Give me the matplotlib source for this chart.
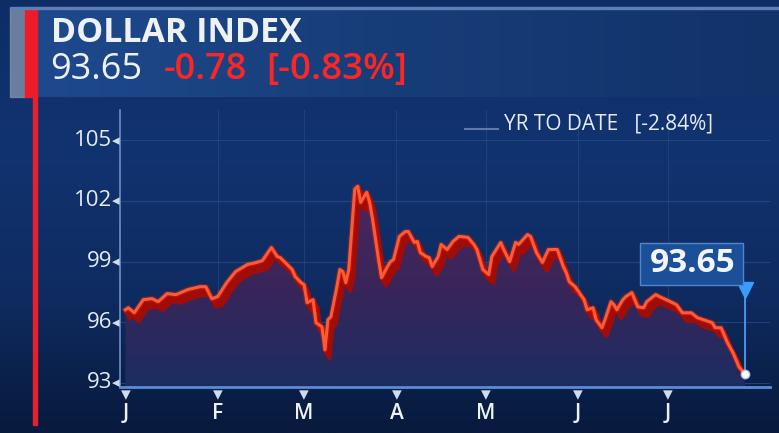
import numpy as np
import matplotlib
matplotlib.use("Agg")
import matplotlib.pyplot as plt
from matplotlib.patches import Rectangle, Polygon
from matplotlib.transforms import offset_copy

plt.rcParams['font.family'] = ['Open Sans', 'DejaVu Sans']

# day of year 2020 (0 = Jan 1) and dollar index close
days = [0, 1, 3, 6, 9, 11, 14, 17, 21, 25, 27, 29, 31, 34, 37, 41, 44, 46, 49, 51,
        52, 56, 57, 59, 60, 61, 63, 64, 66, 67, 68, 69, 71, 72, 73, 74, 75, 77, 78, 79,
        81, 82, 83, 85, 86, 88, 89, 90, 92, 94, 95, 97, 98, 99, 101, 102, 103, 105, 106, 108,
        110, 112, 115, 117, 118, 120, 122, 123, 126, 127, 129, 131, 132, 135, 136, 138, 140, 142, 145, 147,
        148, 149, 151, 154, 155, 157, 158, 160, 161, 163, 164, 165, 167, 168, 170, 172, 174, 175, 178, 180,
        183, 185, 187, 190, 192, 194, 197, 198, 200, 202, 204, 206, 208]
values = [96.62, 96.72, 96.47, 97.12, 97.17, 97.02, 97.42, 97.37, 97.62, 97.76, 97.76, 97.17, 97.27, 97.96, 98.51, 98.86, 98.96, 99.05, 99.70, 99.25,
          99.20, 98.61, 98.26, 97.96, 97.86, 96.97, 97.12, 95.98, 95.78, 94.64, 96.13, 96.28, 97.76, 98.61, 98.51, 97.96, 98.61, 102.58, 102.73, 101.93,
          102.43, 101.93, 101.09, 99.10, 98.21, 98.76, 99.00, 99.10, 100.25, 100.49, 100.49, 99.95, 100.00, 99.45, 99.25, 99.20, 98.76, 99.25, 99.85, 99.60,
          100.00, 100.25, 100.20, 99.85, 99.60, 98.61, 98.36, 99.25, 99.95, 99.60, 99.00, 99.95, 99.85, 100.34, 100.25, 99.45, 98.96, 99.60, 99.60, 98.76,
          98.46, 98.01, 97.76, 97.12, 96.62, 96.72, 96.13, 95.73, 96.13, 97.02, 96.87, 96.62, 97.12, 97.27, 97.47, 96.77, 96.72, 97.02, 97.37, 97.22,
          97.02, 96.87, 96.47, 96.47, 96.23, 96.13, 95.98, 95.73, 95.73, 95.03, 94.49, 93.79, 93.45]

month_days = [0, 31, 60, 91, 121, 152, 182]
month_labels = ["J", "F", "M", "A", "M", "J", "J"]
y_ticks = [93, 96, 99, 102, 105]

title = "DOLLAR INDEX"
last_txt = "93.65"
chg_txt = "-0.78"
pct_txt = "[-0.83%]"
ytd_txt = "YR TO DATE   [-2.84%]"

W, H = 779, 433
fig = plt.figure(figsize=(W / 100, H / 100), dpi=100)
fig.patch.set_facecolor("#0b2150")

# background gradient
bg = fig.add_axes([0, 0, 1, 1], zorder=-5)
grad = np.linspace(0, 1, 256).reshape(-1, 1)
bg_cmap = matplotlib.colors.LinearSegmentedColormap.from_list("bg", ["#0e2d66", "#113370", "#0f2c62", "#081a3d"])
bg.imshow(grad, cmap=bg_cmap, aspect="auto", extent=[0, 1, 0, 1], origin="upper")
bg.set_axis_off()


def px(x, y):
    return x / W, 1 - y / H


# header box
hdr_cmap = matplotlib.colors.LinearSegmentedColormap.from_list("hdr", ["#1e4a8e", "#173d78", "#12326a"])
hdr = fig.add_axes([10 / W, 1 - 97 / H, 1 - 10 / W, 89 / H], zorder=1)
hdr.imshow(np.linspace(0, 1, 256).reshape(1, -1), cmap=hdr_cmap, aspect="auto", extent=[0, 1, 0, 1])
hdr.set_axis_off()
fig.patches.append(Rectangle(px(10, 97), 15 / W, 89 / H, transform=fig.transFigure,
                             color="#8a95a6", alpha=0.7, zorder=2))
fig.patches.append(Rectangle(px(25, 97), 12 / W, 89 / H, transform=fig.transFigure,
                             color="#ee1c2a", zorder=2))
fig.patches.append(Rectangle(px(33, 425), 4 / W, 328 / H, transform=fig.transFigure,
                             color="#e8202c", zorder=2))
fig.patches.append(Rectangle(px(10, 9), 769 / W, 1.5 / H, transform=fig.transFigure,
                             color="#5d7fb5", zorder=2))

fig.text(*px(51, 33), title, color="#eef2f7", fontsize=24.5, fontweight="bold", va="center", zorder=3)
fig.text(*px(50, 70), last_txt, color="#eef2f7", fontsize=26, va="center", zorder=3)
fig.text(*px(164, 70), chg_txt, color="#ff2525", fontsize=26, fontweight="semibold", va="center", zorder=3)
fig.text(*px(266, 70), pct_txt, color="#ff2525", fontsize=26.5, fontweight="semibold", va="center", zorder=3)

# main chart
ax = fig.add_axes([120 / W, 1 - 387 / H, 650 / W, 277 / H], zorder=2)
ax.set_facecolor("none")
x0, x1 = -1.8, 216.4
y0, y1 = 92.8, 106.5
ax.set_xlim(x0, x1)
ax.set_ylim(y0, y1)

for v in y_ticks:
    ax.axhline(v, color="#2f5590", lw=0.8, alpha=0.6, zorder=0)
for d in month_days[1:]:
    ax.axvline(d, color="#2f5590", lw=0.8, alpha=0.45, zorder=0)

# gradient fill under the curve
fill_cmap = matplotlib.colors.LinearSegmentedColormap.from_list("fill", ["#4a2760", "#3a2559", "#1c2d62"])
im = ax.imshow(np.linspace(0, 1, 256).reshape(-1, 1), cmap=fill_cmap, aspect="auto",
               extent=[x0, x1, y0, 103], origin="upper", zorder=1)
poly = Polygon(list(zip(days, values)) + [(days[-1], y0), (days[0], y0)], closed=True,
               transform=ax.transData, facecolor="none", edgecolor="none")
ax.add_patch(poly)
im.set_clip_path(poly)

# 3D red extrusion, clipped at the last point
clip_box = Rectangle((x0, y0), days[-1] - x0, y1 - y0, transform=ax.transData)
for k in range(1, 10):
    tr = offset_copy(ax.transData, fig=fig, x=0.5 * k, y=-0.9 * k, units="dots")
    ln, = ax.plot(days, values, color="#a00c08", lw=3, transform=tr, zorder=2, solid_joinstyle="round")
    ln.set_clip_path(clip_box)
ax.plot(days, values, color="#ff3010", lw=4, alpha=0.25, zorder=3)
ax.plot(days, values, color="#ff5a36", lw=2.2, zorder=4, solid_joinstyle="round")

# end marker and label
ax.plot([days[-1], days[-1]], [values[-1], 97.75], color="#4aa8ff", lw=1.2, zorder=4)
ax.plot(days[-1], 97.6, marker="v", color="#3b9cff", ms=11, zorder=5)
ax.plot(days[-1], values[-1], "o", color="white", ms=6, zorder=6, markeredgecolor="#b0c4e0")

ax.set_xticks([])
ax.set_yticks([])
for s in ["top", "right"]:
    ax.spines[s].set_visible(False)
ax.spines["left"].set_color("#6d8fc4")
ax.spines["left"].set_linewidth(1.2)
ax.spines["bottom"].set_color("#5b8ad6")
ax.spines["bottom"].set_linewidth(2)

for v in y_ticks:
    ax.text(-0.012, v, str(v), transform=ax.get_yaxis_transform(), ha="right", va="center",
            color="#e6ecf5", fontsize=16, clip_on=False)
    ax.text(-0.006, v, "\u25c2", transform=ax.get_yaxis_transform(), ha="center", va="center",
            color="#cfdcef", fontsize=11, clip_on=False, family="DejaVu Sans")
for d, lab in zip(month_days, month_labels):
    ax.text(d, -0.028, "\u25be", transform=ax.get_xaxis_transform(), ha="center", va="center",
            color="#cfdcef", fontsize=14, clip_on=False, family="DejaVu Sans")
    ax.text(d, -0.095, lab, transform=ax.get_xaxis_transform(), ha="center", va="center",
            color="#eef2f7", fontsize=15, fontweight="semibold", clip_on=False)

# year-to-date legend
fig.lines.append(plt.Line2D([465 / W, 498 / W], [1 - 129 / H, 1 - 129 / H], transform=fig.transFigure,
                            color="#5f7aa6", lw=1.5))
fig.text(*px(504, 124), ytd_txt, color="#e6ecf5", fontsize=15, va="center", zorder=3)

# price box
fig.patches.append(Rectangle(px(640, 285), 103 / W, 42 / H, transform=fig.transFigure,
                             facecolor="#1b4f98", edgecolor="#4f86d0", lw=1, zorder=3))
fig.text(*px(693, 264), last_txt, color="#f2f5fa", fontsize=24, fontweight="bold",
         ha="center", va="center", zorder=4)

fig.savefig("out.png", dpi=100, facecolor=fig.get_facecolor())
